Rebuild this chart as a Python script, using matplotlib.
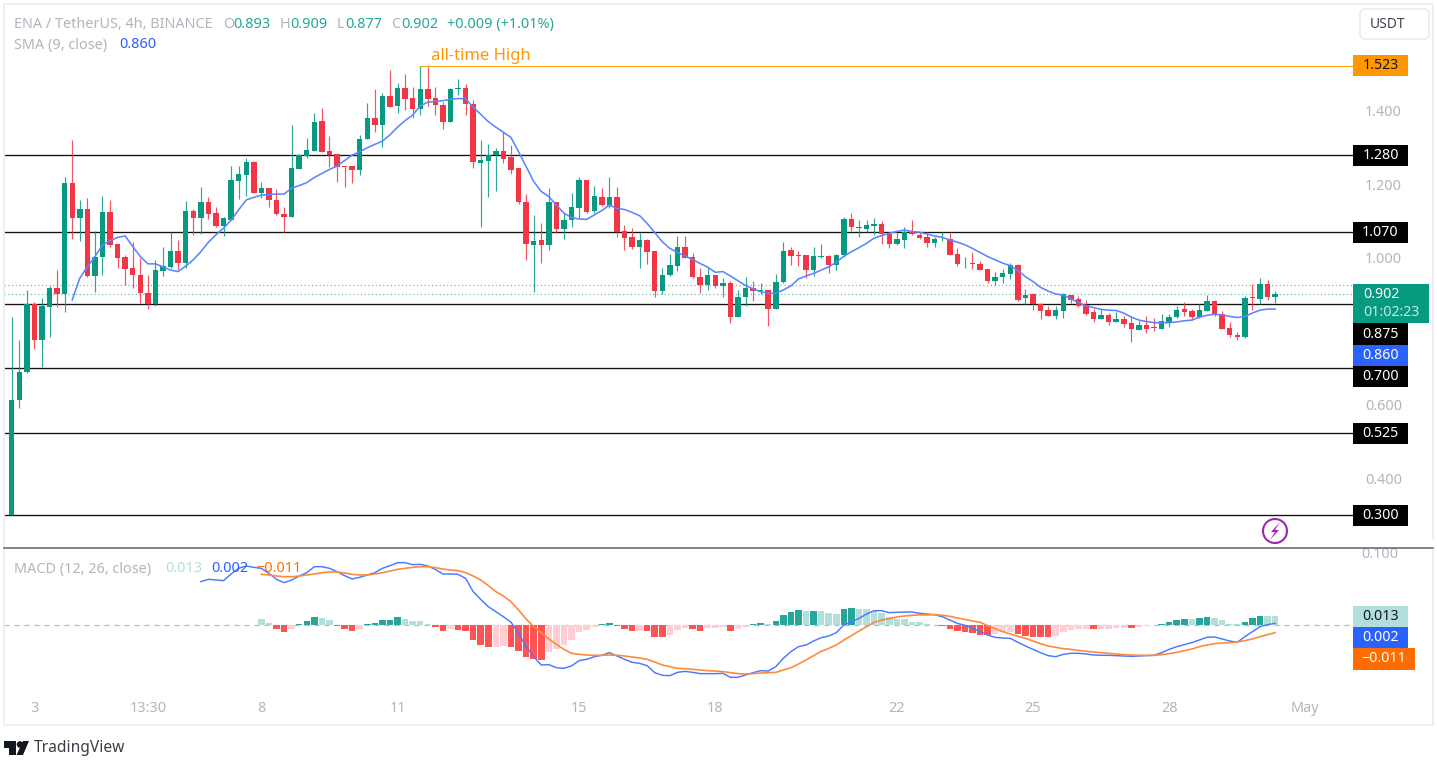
import numpy as np
import matplotlib
matplotlib.use('Agg')
import matplotlib.pyplot as plt
from matplotlib.patches import Rectangle, FancyBboxPatch, Circle, Polygon

W, H = 1437, 761

# ENA/USDT 4h candles
opens = [.300,.614,.690,.875,.777,.867,.918,.902,1.203,1.108,1.133,.951,1.004,1.125,1.037,1.002,.972,.955,.904,.874,
         .965,.975,1.019,.985,1.129,1.110,1.151,1.122,1.087,1.103,1.210,1.226,1.262,1.178,1.191,1.158,1.120,1.112,1.242,1.278,
         1.292,1.373,1.291,1.282,1.250,1.249,1.239,1.324,1.382,1.361,1.442,1.413,1.462,1.434,1.405,1.459,1.434,1.416,1.371,1.460,1.462,1.420,
         1.259,1.265,1.279,1.291,1.275,1.244,1.152,1.036,1.048,1.034,1.153,1.080,1.102,1.137,1.211,1.129,1.167,1.142,1.167,1.073,1.057,1.031,1.048,1.018,
         .911,.954,.978,1.029,1.002,.949,.927,.953,.924,.933,.840,.893,.918,.910,.913,.860,.934,1.021,1.007,1.007,.967,1.002,1.005,.981,1.009,1.106,1.082,
         1.079,1.088,1.093,1.065,1.038,1.049,1.072,1.062,1.056,1.041,1.051,1.052,1.010,.985,.986,.983,.969,.936,.948,.957,.980,.890,.901,.875,.859,.843,.857,.900,
         .888,.871,.853,.834,.844,.826,.833,.823,.804,.817,.812,.807,.825,.840,.860,.857,.839,.857,.884,.848,.809,.791,.784,.893,.888,.928,.893]
highs = [.839,.777,.913,.880,.890,.924,.966,1.221,1.321,1.158,1.164,1.073,1.170,1.158,1.037,1.008,1.043,.999,.954,.995,
         1.029,1.070,1.049,1.156,1.132,1.194,1.167,1.140,1.112,1.250,1.251,1.271,1.264,1.206,1.191,1.188,1.140,1.362,1.282,1.326,
         1.395,1.407,1.332,1.282,1.250,1.249,1.335,1.421,1.459,1.450,1.512,1.475,1.501,1.464,1.523,1.519,1.464,1.425,1.462,1.486,1.473,1.430,
         1.321,1.310,1.298,1.344,1.308,1.244,1.173,1.117,1.096,1.190,1.153,1.122,1.178,1.221,1.211,1.197,1.190,1.220,1.192,1.089,1.082,1.069,1.051,1.018,
         .974,1.011,1.060,1.060,1.013,.972,.976,.955,.945,.938,.913,.949,.936,.931,.913,.956,1.044,1.031,1.019,1.007,1.031,1.037,1.007,1.011,1.112,1.123,1.103,
         1.104,1.108,1.101,1.069,1.069,1.084,1.102,1.072,1.070,1.056,1.072,1.067,1.026,1.002,1.016,.991,.970,.961,.971,.986,.984,.915,.905,.878,.870,.870,.906,.900,
         .897,.886,.861,.861,.850,.854,.841,.841,.829,.842,.836,.848,.848,.870,.879,.862,.874,.898,.887,.855,.827,.799,.897,.929,.945,.940,.909]
lows = [.300,.592,.688,.752,.703,.785,.867,.853,1.053,1.047,.949,.908,.953,1.031,.972,.927,.917,.878,.862,.868,
        .951,.974,.966,.972,1.063,1.064,1.106,1.085,1.061,1.102,1.160,1.170,1.176,1.162,1.140,1.117,1.072,1.112,1.242,1.273,
        1.292,1.288,1.248,1.206,1.192,1.203,1.226,1.324,1.344,1.303,1.410,1.395,1.403,1.380,1.390,1.414,1.389,1.352,1.371,1.444,1.389,1.244,
        1.083,1.167,1.181,1.259,1.229,1.147,.995,.907,.986,1.022,1.069,1.053,1.083,1.108,1.123,1.122,1.142,1.135,1.058,1.022,1.024,.972,.984,.893,
        .901,.952,.965,.999,.946,.906,.912,.919,.895,.822,.840,.870,.884,.901,.815,.860,.931,.981,.978,.945,.951,.999,.958,.967,1.002,1.074,1.056,
        1.071,1.063,1.038,1.028,1.036,1.028,1.063,1.051,1.030,1.031,1.045,1.008,.979,.974,.969,.966,.931,.927,.933,.942,.884,.875,.859,.834,.842,.833,.838,.877,
        .867,.845,.826,.833,.818,.825,.812,.771,.804,.795,.802,.807,.813,.838,.842,.831,.838,.856,.841,.807,.784,.777,.781,.859,.874,.886,.877]
closes = [.614,.690,.875,.777,.869,.918,.902,1.203,1.108,1.133,.951,1.004,1.125,1.034,1.001,.970,.955,.904,.875,.966,
          .979,1.019,.985,1.128,1.110,1.153,1.121,1.087,1.110,1.211,1.228,1.260,1.178,1.191,1.158,1.119,1.112,1.244,1.280,1.293,
          1.370,1.289,1.279,1.248,1.248,1.239,1.324,1.381,1.361,1.442,1.412,1.462,1.433,1.405,1.459,1.433,1.415,1.371,1.459,1.462,1.418,1.260,
          1.266,1.279,1.290,1.270,1.239,1.152,1.039,1.045,1.034,1.153,1.078,1.103,1.140,1.211,1.126,1.170,1.143,1.167,1.072,1.054,1.031,1.048,1.017,.911,
          .955,.980,1.029,1.001,.947,.927,.953,.924,.933,.840,.894,.917,.910,.913,.860,.935,1.018,1.006,1.005,.967,1.005,1.005,.981,1.009,1.106,1.083,1.085,
          1.090,1.093,1.064,1.038,1.051,1.072,1.064,1.055,1.042,1.051,1.053,1.008,.984,.987,.983,.968,.936,.949,.958,.980,.886,.900,.874,.857,.843,.858,.901,.887,
          .868,.848,.834,.844,.826,.834,.821,.808,.817,.807,.810,.828,.840,.859,.854,.839,.859,.883,.844,.808,.791,.785,.892,.890,.928,.893,.902]

# SMA 9, starts at candle 8
sma = [.886,.945,.976,1.004,1.035,1.047,1.056,1.060,1.031,1.004,.984,.984,.976,.967,.963,.978,.995,1.017,1.043,1.063,
       1.081,1.103,1.131,1.158,1.165,1.171,1.173,1.174,1.174,1.190,1.197,1.205,1.219,1.230,1.241,1.250,1.265,1.280,1.289,1.300,
       1.309,1.318,1.335,1.356,1.374,1.389,1.414,1.424,1.426,1.428,1.432,1.434,1.433,1.410,1.391,1.371,1.356,1.342,1.328,1.289,
       1.249,1.208,1.181,1.167,1.144,1.122,1.110,1.106,1.105,1.117,1.129,1.144,1.135,1.132,1.124,1.115,1.094,1.069,1.044,1.026,
       1.015,1.005,.996,.985,.975,.961,.963,.951,.938,.925,.916,.908,.904,.904,.913,.924,.943,.951,.958,.967,
       .976,.988,1.005,1.017,1.028,1.040,1.054,1.061,1.067,1.072,1.076,1.072,1.070,1.065,1.060,1.056,1.049,1.043,1.036,1.026,
       1.015,1.004,.995,.986,.979,.966,.949,.936,.920,.910,.902,.899,.889,.879,.870,.865,.860,.858,.857,.850,
       .839,.831,.827,.824,.824,.824,.826,.829,.831,.839,.844,.847,.845,.841,.838,.841,.850,.858,.861,.861]

# MACD line, starts at candle 25
macd = [.0626,.0660,.0650,.0641,.0737,.0819,.0853,.0833,.0819,.0747,.0660,.0612,.0650,.0708,.0756,.0843,.0843,.0819,.0771,.0713,
        .0665,.0689,.0723,.0756,.0819,.0857,.0901,.0901,.0872,.0877,.0853,.0804,.0737,.0737,.0732,.0674,.0482,.0370,.0265,.0193,
        .0120,.0039,-.0120,-.0313,-.0458,-.0578,-.0573,-.0617,-.0626,-.0592,-.0515,-.0496,-.0458,-.0438,-.0400,-.0448,-.0496,-.0539,-.0554,-.0588,
        -.0689,-.0727,-.0732,-.0684,-.0670,-.0684,-.0703,-.0703,-.0703,-.0698,-.0756,-.0756,-.0723,-.0689,-.0660,-.0665,-.0602,-.0482,-.0385,-.0313,
        -.0289,-.0231,-.0183,-.0159,-.0111,.0000,.0048,.0096,.0159,.0207,.0207,.0178,.0183,.0188,.0188,.0169,.0159,.0149,.0120,.0072,
        .0024,-.0005,-.0048,-.0092,-.0145,-.0178,-.0188,-.0193,-.0250,-.0303,-.0351,-.0400,-.0443,-.0458,-.0424,-.0409,-.0409,-.0419,-.0433,-.0438,
        -.0438,-.0443,-.0448,-.0453,-.0448,-.0443,-.0438,-.0400,-.0352,-.0313,-.0284,-.0255,-.0217,-.0178,-.0173,-.0202,-.0231,-.0250,-.0169,-.0096,
        -.0024,.0005,.0024]
# signal line, starts at candle 33
signal = [.0732,.0723,.0708,.0698,.0698,.0708,.0723,.0737,.0756,.0766,.0766,.0751,.0732,.0723,.0723,.0737,.0756,.0780,.0804,.0819,
          .0833,.0843,.0843,.0829,.0809,.0795,.0785,.0756,.0708,.0650,.0570,.0482,.0419,.0337,.0217,.0087,-.0024,-.0111,-.0202,-.0279,
          -.0352,-.0409,-.0424,-.0434,-.0438,-.0438,-.0434,-.0438,-.0448,-.0462,-.0477,-.0496,-.0535,-.0578,-.0602,-.0626,-.0631,-.0641,-.0650,-.0660,
          -.0665,-.0674,-.0689,-.0703,-.0708,-.0703,-.0694,-.0689,-.0684,-.0650,-.0617,-.0564,-.0506,-.0443,-.0381,-.0337,-.0289,-.0217,-.0154,-.0087,
          -.0024,.0039,.0072,.0092,.0116,.0130,.0140,.0145,.0145,.0149,.0140,.0125,.0101,.0082,.0058,.0039,-.0010,-.0053,-.0096,-.0130,
          -.0164,-.0193,-.0231,-.0270,-.0303,-.0323,-.0342,-.0352,-.0366,-.0381,-.0390,-.0400,-.0409,-.0419,-.0429,-.0433,-.0438,-.0438,-.0438,-.0429,
          -.0414,-.0395,-.0371,-.0347,-.0313,-.0289,-.0270,-.0260,-.0255,-.0246,-.0226,-.0202,-.0169,-.0140,-.0111]
# histogram, starts at candle 33
hist = [.0092,.0034,-.0053,-.0096,-.0053,.0019,.0053,.0120,.0096,.0067,-.0010,-.0053,-.0087,-.0053,.0019,.0034,.0077,.0078,.0111,.0092,
        .0053,.0052,.0019,-.0024,-.0087,-.0063,-.0067,-.0087,-.0217,-.0289,-.0323,-.0313,-.0303,-.0323,-.0381,-.0467,-.0491,-.0501,-.0395,-.0352,
        -.0289,-.0217,-.0106,-.0072,-.0029,.0010,.0024,-.0014,-.0063,-.0092,-.0087,-.0092,-.0169,-.0170,-.0140,-.0077,-.0048,-.0063,-.0082,-.0043,
        -.0039,-.0029,-.0082,-.0063,-.0029,.0019,.0029,.0010,.0058,.0140,.0188,.0217,.0197,.0203,.0197,.0169,.0165,.0226,.0241,.0231,
        .0226,.0197,.0178,.0111,.0092,.0082,.0048,.0038,.0010,.0005,-.0010,-.0058,-.0087,-.0106,-.0120,-.0140,-.0145,-.0135,-.0096,-.0094,
        -.0135,-.0154,-.0169,-.0170,-.0178,-.0159,-.0106,-.0072,-.0058,-.0057,-.0063,-.0060,-.0058,-.0048,-.0043,-.0048,-.0024,-.0014,-.0005,.0014,
        .0038,.0067,.0082,.0080,.0096,.0111,.0096,.0067,.0019,.0010,.0048,.0096,.0130,.0128,.0127]

support_levels = [1.28, 1.07, .875, .70, .525, .30]
ath = 1.523
prev_close = .926
price_ticks = [1.4, 1.2, 1.0, .6, .4]
time_ticks = [3, 18, 33, 51, 75, 93, 117, 135, 153, 171]
time_labels = ['3', '13:30', '8', '11', '15', '18', '22', '25', '28', 'May']

GREEN, RED = '#089981', '#f23645'
GREY = '#b2b5be'
FONT = 'Noto Sans'
plt.rcParams['font.family'] = [FONT, 'DejaVu Sans']

def box(x0, y0, x1, y1):
    return [x0 / W, 1 - y1 / H, (x1 - x0) / W, (y1 - y0) / H]

fig = plt.figure(figsize=(W / 100, H / 100), dpi=100, facecolor='white')

# price pane
ax = fig.add_axes(box(4, 5, 1353, 548))
x = np.arange(len(closes))
o, h, l, c = map(np.array, (opens, highs, lows, closes))
cols = np.where(c >= o, GREEN, RED)
for lvl in support_levels:
    ax.axhline(lvl, color='#111111', lw=0.95, zorder=1)
ax.hlines(ath, 54, 178, color='#ff9800', lw=0.7, zorder=1)
ax.axhline(prev_close, color='#a6a6a6', lw=0.9, ls=(0, (1, 2)), zorder=1)
ax.axhline(closes[-1], color='#66c2b4', lw=0.9, ls=(0, (1, 2)), zorder=1)
ax.vlines(x, l, h, colors=cols, lw=0.85, alpha=0.85, zorder=2)
ax.bar(x, np.maximum(np.abs(c - o), .002), bottom=np.minimum(o, c), width=.72, color=cols, zorder=3)
ax.plot(x[-len(sma):], sma, color='#5c85ff', lw=1.15, zorder=4)
ax.set_xlim(-1.02, 177.3)
ax.set_ylim(.2108, 1.6884)
ax.set_xticks([])
ax.yaxis.tick_right()
ax.set_yticks(price_ticks)
ax.set_yticklabels(['%.3f' % v for v in price_ticks], color=GREY, fontsize=10.4)
ax.tick_params(axis='y', length=0, pad=8.5)
for s in ax.spines.values():
    s.set_visible(False)

# macd pane
ax2 = fig.add_axes(box(4, 548, 1353, 692))
ax2.axhline(0, color='#b8b8b8', lw=0.9, ls=(0, (4, 4)), zorder=1)
hv = np.array(hist)
hx = x[-len(hv):]
hcols = []
for i, v in enumerate(hv):
    up = i == 0 and v > 0 or i > 0 and v > hv[i - 1]
    if v >= 0:
        hcols.append('#26a69a' if up and i > 0 else '#b2dfdb')
    else:
        hcols.append('#ffcdd2' if up else '#ff5252')
ax2.bar(hx, hv, width=.86, color=hcols, zorder=2)
ax2.plot(x[-len(macd):], macd, color='#4a78ff', lw=1.05, zorder=3)
ax2.plot(x[-len(signal):], signal, color='#ff8a3d', lw=1.2, zorder=4)
ax2.set_xlim(-1.02, 177.3)
ax2.set_ylim((625 - 692) / 692, (625 - 548) / 692)
ax2.set_yticks([])
ax2.set_xticks(time_ticks)
ax2.set_xticklabels(time_labels, color=GREY, fontsize=10.4)
ax2.get_xticklabels()[-1].set_fontweight('bold')
ax2.tick_params(axis='x', length=0, pad=6.5)
for s in ax2.spines.values():
    s.set_visible(False)

# everything else in pixel coordinates
ui = fig.add_axes([0, 0, 1, 1], facecolor='none')
ui.set_xlim(0, W)
ui.set_ylim(H, 0)
ui.axis('off')

def txt(px, py, s, color=GREY, size=10.4, ha='left', **kw):
    ui.text(px, py, s, color=color, fontsize=size, ha=ha, va='center', **kw)

def tag(y0, y1, s, bg, fg='white', x1=1408):
    ui.add_patch(Rectangle((1353, y0), x1 - 1353, y1 - y0, color=bg, lw=0, zorder=5))
    cx = 1380.5 if x1 == 1408 else 1384
    txt(cx, (y0 + y1) / 2, s, color=fg, size=10.2, ha='center', zorder=6)

# frame
frame = '#eceef3'
ui.plot([4, 4, 1433, 1433, 4], [4, 725, 725, 4, 4], color=frame, lw=1.4)
txt(1380, 554, '0.100', ha='center', zorder=1)
ui.add_patch(Rectangle((1353, 540), 84, 8, color='white', lw=0, zorder=2))
ui.plot([4, 1433], [548, 548], color='#5d606b', lw=1.1, zorder=3)

# legend
TEAL = '#26a69a'
txt(14, 24.5, 'ENA / TetherUS, 4h, BINANCE')
for px, letter, val in [(223, 'O', '0.893'), (280, 'H', '0.909'), (337, 'L', '0.877'), (391, 'C', '0.902')]:
    txt(px, 24, letter)
    txt(px + (8 if letter == 'L' else 10), 24, val, color=TEAL)
txt(447, 24.5, '+0.009 (+1.01%)', color=TEAL)
txt(14, 45, 'SMA (9, close)')
txt(119, 44.5, '0.860', color='#2962ff')
txt(431, 56, 'all-time High', color='#ff9800', size=12)
txt(14, 569, 'MACD (12, 26, close)')
txt(165, 568.5, '0.013', color='#b2dfdb')
txt(211, 568.5, '0.002', color='#2962ff')
txt(302, 568.5, '\u22120.011', color='#ff6d00', ha='right')

# right side tags
tag(55, 76, '1.523', '#ff9800', fg='#131722')
tag(145, 166, '1.280', '#000000')
tag(222, 243, '1.070', '#000000')
ui.add_patch(Rectangle((1353, 284), 76, 39, color=GREEN, lw=0, zorder=5))
txt(1381, 294, '0.902', color='white', size=10.2, ha='center', zorder=6)
txt(1391, 313, '01:02:23', color='#c8ebe4', size=10.2, ha='center', zorder=6)
tag(323, 345, '0.875', '#000000')
tag(345, 366, '0.860', '#2962ff')
tag(366, 387, '0.700', '#000000')
tag(423, 444, '0.525', '#000000')
tag(505, 526, '0.300', '#000000')
tag(606, 627, '0.013', '#b2dfdb', fg='#131722')
tag(627, 648, '0.002', '#2962ff')
tag(648, 670, '\u22120.011', '#ff6d00', x1=1415)

# currency button
ui.add_patch(FancyBboxPatch((1360, 9), 69, 30, boxstyle='round,pad=0,rounding_size=5', fc='white', ec='#e6e8ee', lw=1))
txt(1370, 24, 'USDT', color='#434651', size=10)

# lightning icon
ui.add_patch(Circle((1275, 531), 12, fc='white', ec='#9c27b0', lw=1.5, zorder=5))
ui.add_patch(Polygon([(1280, 522), (1271, 532), (1275, 532), (1270, 540), (1279, 530), (1275, 530)],
                     closed=True, fc='#9c27b0', ec='none', zorder=6))

# logo
ui.add_patch(Polygon([(4, 741), (16, 741), (16, 755), (9, 755), (9, 748), (4, 748)], closed=True, fc='#131722', ec='none'))
ui.add_patch(Circle((20, 744.5), 3.3, fc='#131722', ec='none'))
ui.add_patch(Polygon([(23, 741), (29, 741), (23, 755), (16.5, 755)], closed=True, fc='#131722', ec='none'))
txt(34, 748, 'TradingView', color='#3b3e48', size=11.2)

fig.savefig('out.png', dpi=100, facecolor='white')
